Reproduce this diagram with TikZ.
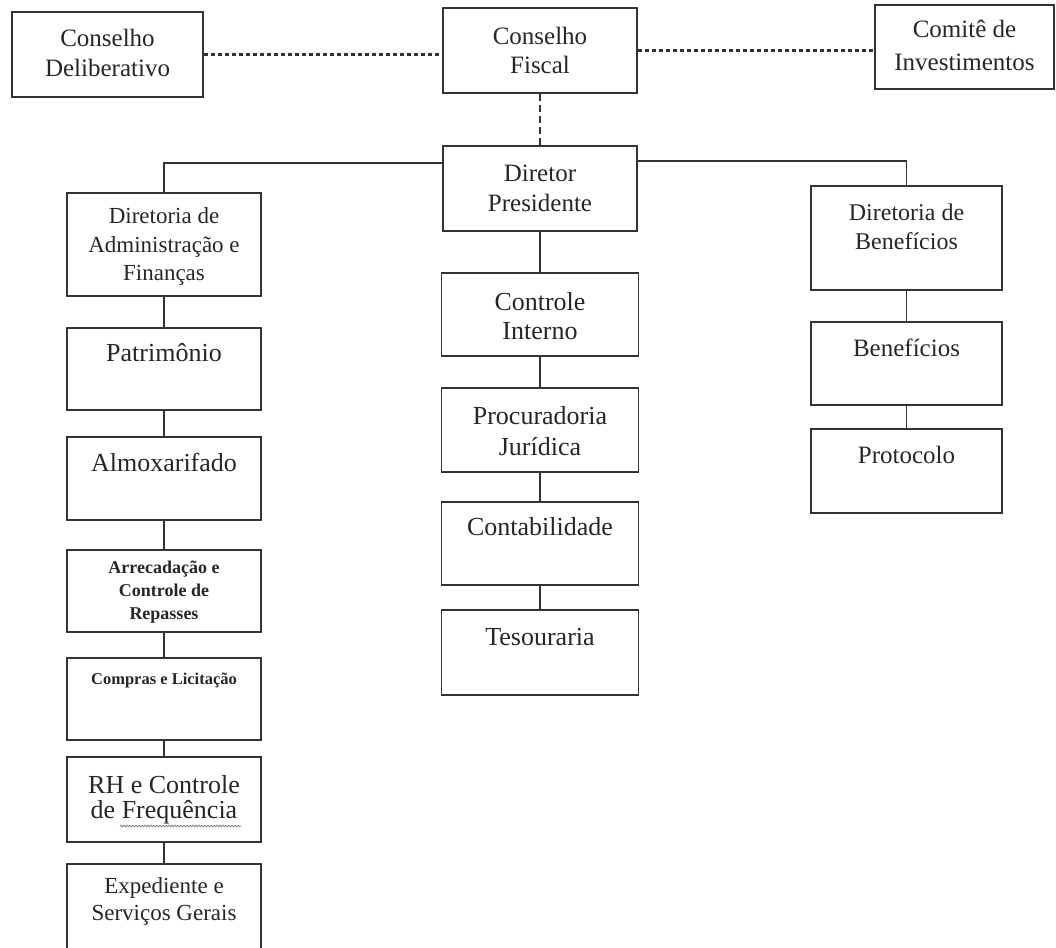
\documentclass[tikz,border=0pt]{standalone}
\usepackage{fontspec}
\setmainfont{Liberation Serif}
\usetikzlibrary{decorations.pathmorphing}
\definecolor{ink}{HTML}{333333}
\definecolor{tink}{HTML}{262626}
\newcommand{\fs}[2]{\fontsize{#1}{#2}\selectfont}
\tikzset{
  box/.style={draw=ink, line width=1.6pt, inner sep=0pt},
  txt/.style={text=tink, align=center, inner sep=0pt},
  link/.style={draw=ink, line width=1.4pt},
  dlink/.style={draw=ink, line width=2.4pt, dash pattern=on 4pt off 3pt},
  vdlink/.style={draw=ink, line width=1.4pt, dash pattern=on 7pt off 4pt},
}
\begin{document}
\begin{tikzpicture}[x=1pt,y=-1pt]
\useasboundingbox (0,0) rectangle (1056,947);
% top row
\node[box, minimum width=191pt, minimum height=85pt] (delib) at (107.5,54.5) {};
\node[box, minimum width=194pt, minimum height=85pt] (fiscal) at (540,50.5) {};
\node[box, minimum width=179pt, minimum height=84pt] (comite) at (964.5,47) {};
% center column
\node[box, minimum width=194pt, minimum height=85pt] (dp) at (540,188.5) {};
\node[box, minimum width=197pt, minimum height=83pt] (ci) at (540,314.5) {};
\node[box, minimum width=197pt, minimum height=84pt] (proc) at (540,430) {};
\node[box, minimum width=197pt, minimum height=83pt] (cont) at (540,543.5) {};
\node[box, minimum width=197pt, minimum height=85pt] (tes) at (540,652.5) {};
% left column
\node[box, minimum width=194pt, minimum height=103pt] (adm) at (164,244.5) {};
\node[box, minimum width=194pt, minimum height=82pt] (patr) at (164,369) {};
\node[box, minimum width=194pt, minimum height=83pt] (almox) at (164,478.5) {};
\node[box, minimum width=194pt, minimum height=82pt] (arrec) at (164,591) {};
\node[box, minimum width=194pt, minimum height=82pt] (compras) at (164,699) {};
\node[box, minimum width=194pt, minimum height=85pt] (rh) at (164,799.5) {};
\node[box, minimum width=194pt, minimum height=96pt] (exped) at (164,912) {};
% right column
\node[box, minimum width=191pt, minimum height=104pt] (dben) at (906.5,238) {};
\node[box, minimum width=191pt, minimum height=83pt] (ben) at (906.5,363.5) {};
\node[box, minimum width=191pt, minimum height=84pt] (prot) at (906.5,471) {};

% texts
\node[txt, font=\fs{25}{30}] (tdelib) at (107.5,53) {Conselho\\Deliberativo};
\node[txt, font=\fs{25}{29}] (tfiscal) at (540,50) {Conselho\\Fiscal};
\node[txt, font=\fs{25}{33}] (tcomite) at (964.5,45) {Comitê de\\Investimentos};
\node[txt, font=\fs{25}{30}] (tdp) at (540,188) {Diretor\\Presidente};
\node[txt, font=\fs{26}{29}] (tci) at (540,316) {Controle\\Interno};
\node[txt, font=\fs{26}{31}] (tproc) at (540,431) {Procuradoria\\Jurídica};
\node[txt, font=\fs{26}{30}] (tcont) at (540,527) {Contabilidade};
\node[txt, font=\fs{26}{30}] (ttes) at (540,637) {Tesouraria};
\node[txt, font=\fs{23}{28.5}] (tadm) at (164,246.5) {Diretoria de\\Administração e\\Finanças};
\node[txt, font=\fs{26}{30}] (tpatr) at (164,353) {Patrimônio};
\node[txt, font=\fs{26}{30}] (talmox) at (164,462) {Almoxarifado};
\node[txt, font=\fs{18}{23}\bfseries] (tarrec) at (164,592) {Arrecadação e\\Controle de\\Repasses};
\node[txt, font=\fs{16.5}{22}\bfseries] (tcompras) at (164,680) {Compras e Licitação};
\node[txt, font=\fs{26}{25}] (trh) at (164,800) {RH e Controle\\de Frequência};
\node[txt, font=\fs{23}{27}] (texped) at (164,901) {Expediente e\\Serviços Gerais};
\node[txt, font=\fs{24}{29}] (tdben) at (906.5,227) {Diretoria de\\Benefícios};
\node[txt, font=\fs{25}{30}] (tben) at (906.5,348) {Benefícios};
\node[txt, font=\fs{25}{30}] (tprot) at (906.5,455) {Protocolo};

% wavy spell-check underline
\coordinate (w1) at (120,826);
\coordinate (w2) at (241,826);
\draw[gray, line width=0.8pt, decorate, decoration={snake, amplitude=0.8pt, segment length=3pt}] (w1) -- (w2);

% dashed connectors
\draw[dlink] (delib.east) -- (delib.east -| fiscal.west);
\draw[dlink] (fiscal.east) -- (fiscal.east -| comite.west);
\draw[vdlink] (fiscal.south) -- (dp.north);

% solid connectors
\coordinate (jl) at (164,163);
\coordinate (jr) at (906.5,161);
\draw[link] (dp.west |- jl) -- (jl) -- (adm.north);
\draw[link] (dp.east |- jr) -- (jr) -- (dben.north);
\draw[link] (dp.south) -- (ci.north);
\draw[link] (ci.south) -- (proc.north);
\draw[link] (proc.south) -- (cont.north);
\draw[link] (cont.south) -- (tes.north);
\draw[link] (adm.south) -- (patr.north);
\draw[link] (patr.south) -- (almox.north);
\draw[link] (almox.south) -- (arrec.north);
\draw[link] (arrec.south) -- (compras.north);
\draw[link] (compras.south) -- (rh.north);
\draw[link] (rh.south) -- (exped.north);
\draw[link] (dben.south) -- (ben.north);
\draw[link] (ben.south) -- (prot.north);
\end{tikzpicture}
\end{document}
